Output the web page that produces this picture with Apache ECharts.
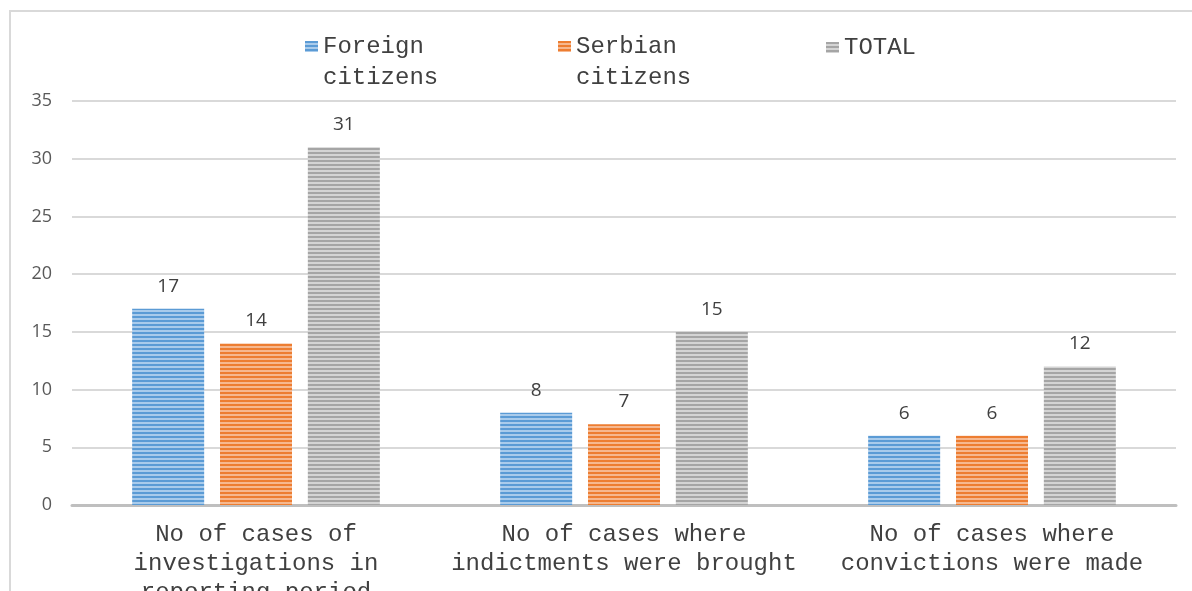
<!DOCTYPE html>
<html>
<head>
<meta charset="utf-8">
<script src="https://cdn.jsdelivr.net/npm/echarts@6/dist/echarts.min.js"></script>
<style>
  html, body { margin: 0; padding: 0; background: #fff; }
  #main { width: 1192px; height: 591px; }
</style>
</head>
<body>
<div id="main"></div>
<script>
var categories = ['No of cases of\ninvestigations in\nreporting period', 'No of cases where\nindictments were brought', 'No of cases where\nconvictions were made'];
var seriesNames = ['Foreign citizens', 'Serbian citizens', 'TOTAL'];
var foreignValues = [17, 8, 6];
var serbianValues = [14, 7, 6];
var totalValues = [31, 15, 12];

// 横条纹填充
function stripes (dark, light) {
    var c = document.createElement('canvas');
    c.width = 4;
    c.height = 4;
    var ctx = c.getContext('2d');
    ctx.fillStyle = light;
    ctx.fillRect(0, 0, 4, 4);
    ctx.fillStyle = dark;
    ctx.fillRect(0, 0, 4, 2);
    return { image: c, repeat: 'repeat' };
}

var fills = [
    stripes('#5b9bd5', '#a9cbeb'),
    stripes('#ed7d31', '#f6b88f'),
    stripes('#a5a5a5', '#d4d4d4')
];

var monoFont = '"Liberation Mono", "DejaVu Sans Mono", monospace';

// 两行图例: 方块放在第一行文字旁边
function makeLegend (name, left) {
    var twoLines = name.indexOf(' ') > 0;
    return {
        data: [name],
        left: left,
        top: twoLines ? 26 : 27,
        icon: twoLines ? 'path://M0,0h13v11h-13zM0,41.9h0.1v0.1h-0.1z' : 'rect',
        itemWidth: 13,
        itemHeight: twoLines ? 42 : 11,
        itemGap: 0,
        formatter: function (n) { return n.replace(' ', '\n'); },
        textStyle: {
            fontFamily: monoFont,
            fontSize: 24,
            color: '#404040',
            lineHeight: 31
        }
    };
}

var chart = echarts.init(document.getElementById('main'));
var option = {
    animation: false,
    backgroundColor: '#fff',
    graphic: [{
        type: 'polyline',
        shape: { points: [[10, 591], [10, 11], [1192, 11]] },
        style: { stroke: '#d9d9d9', lineWidth: 2, fill: null }
    }],
    legend: [
        makeLegend(seriesNames[0], 300),
        makeLegend(seriesNames[1], 553),
        makeLegend(seriesNames[2], 821)
    ],
    grid: {
        left: 72,
        right: 16,
        top: 101,
        bottom: 86,
        outerBoundsMode: 'none'
    },
    xAxis: {
        type: 'category',
        data: categories,
        axisLine: { lineStyle: { color: '#bfbfbf', width: 3 } },
        axisTick: { show: false },
        axisLabel: {
            interval: 0,
            fontFamily: monoFont,
            fontSize: 24,
            lineHeight: 29,
            color: '#404040',
            margin: 15
        }
    },
    yAxis: {
        type: 'value',
        min: 0,
        max: 35,
        interval: 5,
        axisLine: { show: false },
        axisTick: { show: false },
        splitLine: { lineStyle: { color: '#d9d9d9', width: 2 } },
        axisLabel: {
            fontFamily: '"Open Sans", "Noto Sans", sans-serif',
            fontSize: 18,
            color: '#595959',
            margin: 20
        }
    },
    series: [foreignValues, serbianValues, totalValues].map(function (vals, i) {
        return {
            name: seriesNames[i],
            type: 'bar',
            data: vals,
            barWidth: 72,
            barGap: '22%',
            itemStyle: { color: fills[i] },
            label: {
                show: true,
                position: 'top',
                distance: 13,
                fontFamily: '"Open Sans", "Noto Sans", sans-serif',
                fontSize: 19,
                color: '#404040'
            }
        };
    })
};
chart.setOption(option);
</script>
</body>
</html>
